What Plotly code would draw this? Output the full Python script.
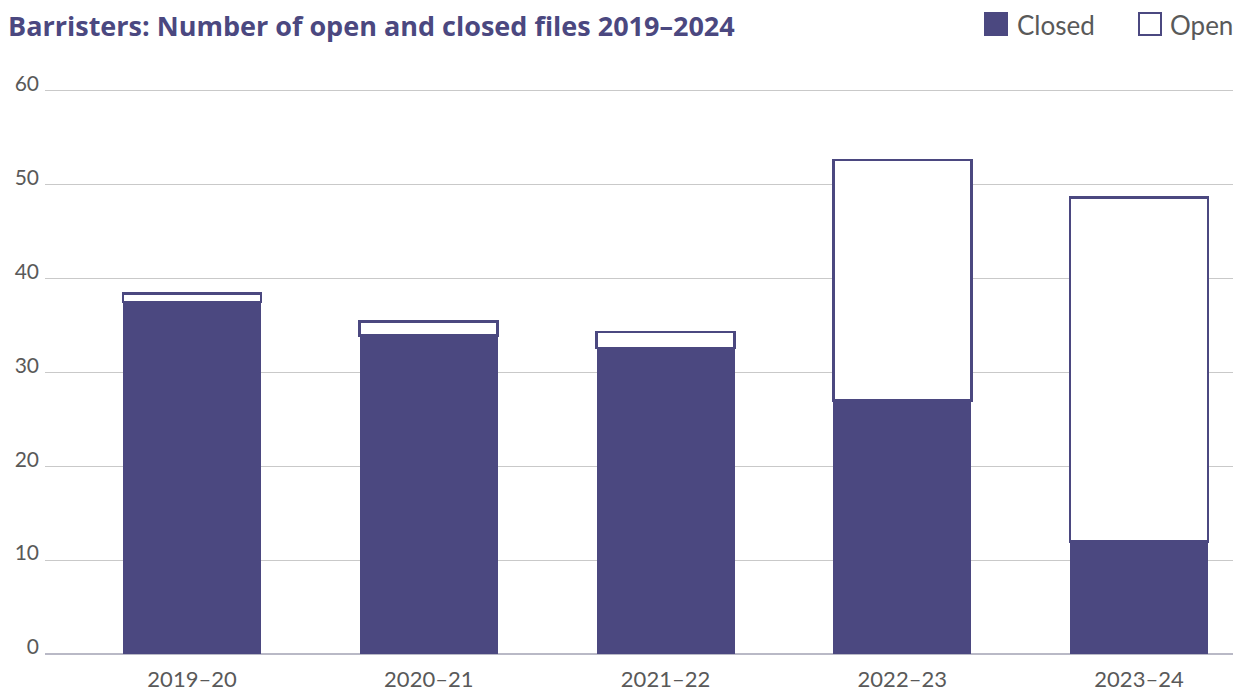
import plotly.graph_objects as go

# Financial years and file counts
years = ["2019–20", "2020–21", "2021–22", "2022–23", "2023–24"]
closed_files = [37.5, 33.9, 32.6, 27.0, 12.0]
open_files = [0.9, 1.5, 1.7, 25.6, 36.6]
y_ticks = [0, 10, 20, 30, 40, 50, 60]

PURPLE = "#4b4880"
GREY_TEXT = "#595959"
FONT = "Lato"

fig = go.Figure()
fig.add_trace(go.Bar(
    x=years, y=closed_files, name="Closed",
    marker=dict(color=PURPLE, line=dict(width=0)),
))
fig.add_trace(go.Bar(
    x=years, y=open_files, name="Open",
    marker=dict(color="white", line=dict(color=PURPLE, width=2.6)),
))

fig.update_layout(
    barmode="stack",
    bargap=0.417,
    width=1247, height=698,
    margin=dict(l=45, r=14, t=86, b=44),
    paper_bgcolor="white",
    plot_bgcolor="white",
    showlegend=False,
    font=dict(family=FONT, color=GREY_TEXT, size=21),
    xaxis=dict(
        range=[-0.621, 4.397], automargin=False,
        showgrid=False, ticks="", showline=False,
        ticklabelstandoff=10,
        tickfont=dict(size=22, color=GREY_TEXT),
    ),
    yaxis=dict(
        range=[0, 60.5], tickvals=y_ticks, automargin=False,
        showgrid=True, gridcolor="#c9c9c9", gridwidth=1,
        zeroline=True, zerolinecolor="#b9b9c6", zerolinewidth=1.5,
        ticks="", ticklabelstandoff=5, ticklabelshift=-7,
        tickfont=dict(size=21, color=GREY_TEXT),
    ),
)

# Positions for title and legend keys, in pixels of the page
def px_x(px):
    return (px - 45) / 1188

def px_y(py):
    return (654 - py) / 568

fig.add_annotation(
    text="<b>Barristers: Number of open and closed files 2019–2024</b>",
    xref="paper", yref="paper", x=px_x(6), y=px_y(26),
    xanchor="left", yanchor="middle", showarrow=False,
    font=dict(family="Open Sans", size=27, color=PURPLE),
)

for (x0, x1, fill, label, tx) in [
    (985, 1007, PURPLE, "Closed", 1015),
    (1139, 1161, "white", "Open", 1168),
]:
    fig.add_shape(
        type="rect", xref="paper", yref="paper",
        x0=px_x(x0), x1=px_x(x1), y0=px_y(35), y1=px_y(13),
        fillcolor=fill, line=dict(color=PURPLE, width=2),
    )
    fig.add_annotation(
        text=label, xref="paper", yref="paper",
        x=px_x(tx), y=px_y(25), xanchor="left", yanchor="middle",
        showarrow=False, font=dict(size=26, color=GREY_TEXT),
    )

fig.write_html("out.html")
